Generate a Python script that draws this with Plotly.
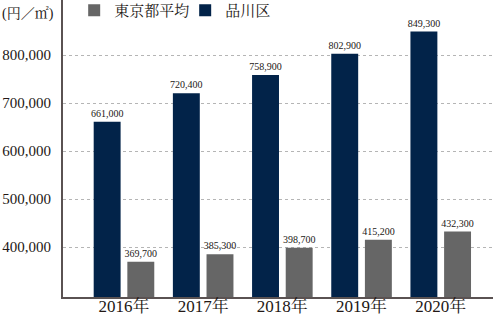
import plotly.graph_objects as go

years = ["2016年", "2017年", "2018年", "2019年", "2020年"]
shinagawa = [661000, 720400, 758900, 802900, 849300]
tokyo_avg = [369700, 385300, 398700, 415200, 432300]
y_ticks = [400000, 500000, 600000, 700000, 800000]

SERIF = "Liberation Serif, Noto Serif CJK JP, Noto Sans CJK JP, serif"
NAVY = "#022349"
GRAY = "#666666"
TXT = "#231815"

fig = go.Figure()
fig.add_trace(go.Bar(
    x=years, y=shinagawa, name="品川区", marker=dict(color=NAVY, line=dict(width=0)),
    text=[f"{v:,}" for v in shinagawa], textposition="outside", cliponaxis=False,
    textfont=dict(family=SERIF, size=10, color=TXT), constraintext="none",
))
fig.add_trace(go.Bar(
    x=years, y=tokyo_avg, name="東京都平均", marker=dict(color=GRAY, line=dict(width=0)),
    text=[f"{v:,}" for v in tokyo_avg], textposition="outside", cliponaxis=False,
    textfont=dict(family=SERIF, size=10, color=TXT), constraintext="none",
))

fig.update_layout(
    width=494, height=321,
    margin=dict(l=63, r=1, t=0, b=24, autoexpand=False),
    paper_bgcolor="white", plot_bgcolor="white",
    barmode="group", bargap=0.15, bargroupgap=0.2,
    font=dict(family=SERIF, color=TXT),
    showlegend=True,
    legend=dict(
        orientation="h", traceorder="reversed",
        x=0.026, xanchor="left", y=1.02, yanchor="top",
        font=dict(size=15, color=TXT, family=SERIF),
        itemwidth=30, bgcolor="rgba(0,0,0,0)", borderwidth=0,
        tracegroupgap=0, itemclick=False, entrywidth=66, entrywidthmode="pixels",
    ),
    xaxis=dict(
        type="category", range=[-0.77, 4.66], automargin=False,
        showline=True, linecolor="#5a5252", linewidth=2,
        showgrid=False, ticks="", tickfont=dict(size=17, color=TXT, family=SERIF),
        ticklabelstandoff=-7, fixedrange=True,
    ),
    yaxis=dict(
        range=[296000, 915000], tickvals=y_ticks, automargin=False,
        ticktext=[f"{v:,}" for v in y_ticks],
        showline=True, linecolor="#5a5252", linewidth=2,
        showgrid=True, gridcolor="#b5b5b5", griddash="dot", gridwidth=1,
        zeroline=False, ticks="", ticklabelstandoff=7,
        tickfont=dict(size=15, color=TXT, family=SERIF),
        fixedrange=True,
    ),
    annotations=[dict(
        text="(円／㎡)", xref="paper", yref="paper", x=-63/430, y=1.0,
        xanchor="left", yanchor="top", yshift=-4, showarrow=False,
        font=dict(size=14, color=TXT, family=SERIF),
    )],
)

fig.write_html("out.html")
